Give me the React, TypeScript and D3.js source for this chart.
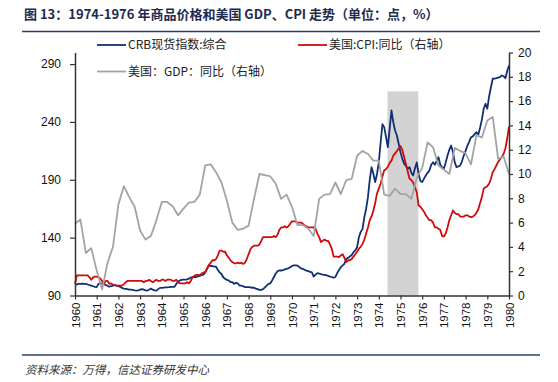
import React, { useEffect, useRef } from 'react';
import * as d3 from 'd3';

// ---- Data ----
const yearTicks = [1960, 1961, 1962, 1963, 1964, 1965, 1966, 1967, 1968, 1969, 1970, 1971, 1972, 1973, 1974, 1975, 1976, 1977, 1978, 1979, 1980];
const leftTicks = [90, 140, 190, 240, 290];
const rightTicks = [0, 2, 4, 6, 8, 10, 12, 14, 16, 18, 20];

// CRB现货指数:综合, monthly 1960-01 .. 1980-01 (left axis)
const crbIndex = [
  99.2, 99.6, 100, 100, 100.2, 100, 100, 99.5, 99, 98.6, 98, 97.5,
  97.2, 100, 100.6, 100.2, 100, 99, 98.5, 97.6, 98, 98.6, 99, 98.6,
  98, 97.5, 96.5, 96, 95.8, 95.5, 95, 95, 94.8, 94.5, 94.3, 94.5,
  95, 95.5, 95, 94.5, 94.3, 95, 96, 95, 94.5, 94.3, 95.5, 96.6,
  96.6, 96.8, 97, 97, 97.2, 97.5, 97.5, 97.5, 100, 102, 103, 103.5,
  103.7, 103.7, 104, 104.5, 105.5, 105.8, 106, 106, 106.5, 107, 107.5, 108.1,
  110, 113, 115.9, 115.5, 115.5, 115, 115, 112, 110, 108.6, 105.8, 104.4,
  103.5, 103, 101.5, 101.5, 100, 101, 100.5, 98.6, 98.6, 98, 97.2, 97.2,
  97.2, 97, 96.7, 96.7, 96, 95.5, 94.9, 94.9, 95.5, 97, 98.5, 100,
  100.5, 103, 106, 109, 111, 111.6, 111.6, 112, 112.5, 113, 113.5, 114.5,
  115.5, 116, 116, 115.9, 114.5, 113.5, 113, 112.2, 111.5, 111, 110.5, 110,
  106.4, 108, 109.3, 109, 108.5, 108.1, 107.8, 107.5, 107, 106.4, 106, 105.3,
  106, 109.3, 112, 114.5, 116, 117.4, 121.7, 122.5, 123.7, 125, 127.4, 129,
  131.7, 140.4, 145, 147.6, 157.7, 165, 175, 190, 200.9, 195.2, 188, 195,
  205, 222, 238, 235.5, 227, 218.2, 234, 249.9, 239.8, 232.6, 228.3, 221.1,
  213.9, 208.1, 204, 202, 199.5, 200.9, 196, 193.7, 200, 205, 195, 189,
  188, 191, 193.7, 196, 198, 203, 205.2, 203, 206, 209.5, 203, 201,
  199.5, 205, 211, 216, 219.6, 214, 205, 201, 201.5, 202.4, 206, 211,
  215, 219.6, 223, 226.8, 227.5, 229.5, 231.1, 228.9, 235, 242, 251.4, 255.7,
  251.4, 262, 270, 277.3, 277.5, 277.8, 278.3, 278.7, 280.1, 279.5, 277.8, 284,
  288.8,
];

// 美国:CPI:同比, monthly 1960-01 .. 1980-01 (right axis)
const cpiYoY = [
  0.96, 1.65, 1.65, 1.65, 1.65, 1.65, 1.65, 1.65, 1.5, 1.3, 1.5, 1.55,
  1.55, 1.5, 1.4, 1.2, 0.96, 1.2, 1.2, 0.96, 1.0, 0.88, 0.85, 0.82,
  0.82, 0.82, 0.82, 0.9, 1.1, 1.2, 1.2, 1.2, 1.2, 1.2, 1.2, 1.2,
  1.2, 1.2, 1.1, 1.2, 1.2, 1.3, 1.2, 1.1, 1.2, 1.3, 1.2, 1.2,
  1.3, 1.3, 1.2, 1.3, 1.3, 1.3, 1.2, 1.2, 1.3, 1.1, 1.0, 1.0,
  1.0, 1.0, 1.1, 1.0, 1.2, 1.5, 1.6, 1.7, 1.7, 1.65, 1.8, 1.9,
  1.9, 2.2, 2.5, 2.7, 2.9, 2.9, 3.0, 3.3, 3.7, 3.7, 3.6, 3.6,
  3.3, 3.1, 2.9, 2.75, 2.65, 2.65, 2.7, 2.65, 2.7, 2.6, 2.7, 3.0,
  3.4, 3.8, 4.0, 4.1, 4.1, 4.1, 4.2, 4.5, 4.8, 4.8, 4.8, 4.8,
  4.8, 4.8, 4.9, 4.8, 5.0, 5.4, 5.6, 5.6, 5.7, 5.6, 5.7, 5.9,
  6.1, 6.1, 6.1, 6.0, 6.0, 6.0, 5.9, 5.75, 5.7, 5.6, 5.6, 5.6,
  5.6, 5.5, 5.1, 4.8, 4.4, 4.5, 4.6, 4.5, 4.5, 4.2, 3.85, 3.2,
  3.2, 3.2, 3.15, 3.3, 3.4, 3.1, 2.75, 2.9, 2.9, 3.0, 3.2, 3.4,
  3.6, 3.85, 4.0, 4.25, 4.6, 5.1, 5.6, 6.2, 6.5, 7.0, 7.6, 8.4,
  8.8, 9.2, 9.8, 10.3, 10.4, 10.6, 10.9, 11.1, 11.5, 11.7, 11.9, 12.1,
  12.3, 12.0, 11.4, 10.8, 10.2, 9.6, 9.5, 9.3, 8.9, 8.5, 7.4, 7.3,
  7.1, 6.9, 6.6, 6.4, 6.2, 6.2, 6.0, 5.6, 5.6, 5.5, 5.4, 4.9,
  4.85, 5.1, 5.6, 6.2, 6.6, 7.0, 6.8, 6.7, 6.7, 6.5, 6.5, 6.5,
  6.6, 6.6, 6.5, 6.45, 6.5, 6.6, 6.8, 7.1, 7.6, 8.1, 8.8, 8.9,
  9.0, 9.2, 9.6, 10.15, 10.4, 10.7, 11.0, 11.2, 11.4, 11.65, 12.1, 12.9,
  13.9,
];

// 美国:GDP:同比, quarterly 1960Q1 .. 1980Q1 (right axis)
const gdpYoY = [
  5.9, 6.25, 3.5, 3.9,
  2.05, 0.5, 2.7, 4.0,
  7.5, 9.0, 8.1, 7.3,
  5.35, 4.6, 4.9, 6.2,
  7.7, 7.7, 7.35, 6.6,
  7.15, 7.65, 7.7, 8.3,
  10.7, 10.8, 10.15, 9.3,
  7.8, 6.0, 5.4, 5.5,
  5.75, 7.95, 10.0, 9.9,
  9.8, 9.2, 7.95, 8.3,
  7.3, 5.8, 5.8, 5.5,
  4.9, 7.95, 8.3, 8.35,
  9.3, 8.35, 9.5, 9.6,
  11.5, 11.9, 11.65, 11.1,
  11.1, 8.3, 8.2, 8.8,
  8.35, 8.35, 7.95, 9.7,
  10.5, 12.6, 12.2, 10.7,
  10.35, 10.0, 12.15, 11.9,
  11.7, 10.8, 13.2, 13.0,
  14.4, 14.7, 11.25, 11.45,
  10.0,
];

// Shaded period (1974-1976 episode), in years, top in right-axis units
const shadeStart = 1974.4;
const shadeEnd = 1975.82;
const shadeTop = 16.8;

const seriesNames = ['CRB现货指数:综合', '美国:CPI:同比（右轴）', '美国：GDP：同比（右轴）'];
const titleText = '图 13：1974-1976 年商品价格和美国 GDP、CPI 走势（单位：点，%）';
const sourceText = '资料来源：万得，信达证券研发中心';

const BLUE = '#112F75';
const RED = '#D10A0A';
const GRAY = '#A3A3A3';
const CJK = '"Noto Sans CJK SC", "Noto Sans", sans-serif';
const LAT = '"Liberation Sans", Arial, sans-serif';

export default function App() {
  const ref = useRef<SVGSVGElement>(null);

  useEffect(() => {
    document.body.style.margin = '0';
    const svg = d3.select(ref.current);
    svg.selectAll('*').remove();

    const x = d3.scaleLinear().domain([1960, 1980]).range([75, 509]);
    const yL = d3.scaleLinear().domain([90, 300]).range([295.5, 52.5]);
    const yR = d3.scaleLinear().domain([0, 20]).range([295.5, 52.5]);

    svg.append('rect').attr('width', 558).attr('height', 382).attr('fill', '#fff');

    // Title
    svg.append('text').attr('x', 24).attr('y', 19)
      .attr('font-family', CJK).attr('font-weight', 700).attr('font-size', 13)
      .attr('fill', '#1E2A50').text(titleText);
    svg.append('line').attr('x1', 22).attr('x2', 540).attr('y1', 31.5).attr('y2', 31.5)
      .attr('stroke', '#2B3F6E').attr('stroke-width', 1.6);

    // Shade
    svg.append('rect')
      .attr('x', x(shadeStart)).attr('width', x(shadeEnd) - x(shadeStart))
      .attr('y', yR(shadeTop)).attr('height', yR(0) - yR(shadeTop))
      .attr('fill', '#D3D3D3');

    // Lines
    const monthX = (i: number) => x(1960 + i / 12);
    const quarterX = (i: number) => x(1960 + i / 4);

    const crbLine = d3.line<number>().x((_, i) => monthX(i)).y(d => yL(d));
    const cpiLine = d3.line<number>().x((_, i) => monthX(i)).y(d => yR(d));
    const gdpLine = d3.line<number>().x((_, i) => quarterX(i)).y(d => yR(d));

    svg.append('path').attr('d', crbLine(crbIndex)!).attr('fill', 'none')
      .attr('stroke', BLUE).attr('stroke-width', 1.8).attr('stroke-linejoin', 'round');
    svg.append('path').attr('d', cpiLine(cpiYoY)!).attr('fill', 'none')
      .attr('stroke', RED).attr('stroke-width', 1.8).attr('stroke-linejoin', 'round');
    svg.append('path').attr('d', gdpLine(gdpYoY)!).attr('fill', 'none')
      .attr('stroke', GRAY).attr('stroke-width', 1.8).attr('stroke-linejoin', 'round');

    // Axes
    const axisColor = '#333';
    const gL = svg.append('g').attr('transform', 'translate(75,0)')
      .call(d3.axisLeft(yL).tickValues(leftTicks).tickSize(5).tickSizeOuter(0).tickPadding(9).tickFormat(d3.format('d')));
    const gR = svg.append('g').attr('transform', 'translate(509,0)')
      .call(d3.axisRight(yR).tickValues(rightTicks).tickSize(4).tickSizeOuter(0).tickPadding(5).tickFormat(d3.format('d')));
    const gB = svg.append('g').attr('transform', 'translate(0,295.5)')
      .call(d3.axisBottom(x).tickValues(yearTicks).tickSize(4).tickSizeOuter(0).tickFormat(d3.format('d')));

    [gL, gR, gB].forEach(g => {
      g.select('.domain').attr('stroke', axisColor).attr('stroke-width', 1.5);
      g.selectAll('.tick line').attr('stroke', axisColor).attr('stroke-width', 1.2);
      g.selectAll('.tick text').attr('fill', '#111').attr('font-family', LAT).attr('font-size', 12);
    });
    gB.selectAll('.tick text')
      .attr('transform', 'rotate(-90)')
      .attr('text-anchor', 'end')
      .attr('x', -7).attr('y', 0).attr('dy', '0.35em')
      .attr('font-size', 11.5);

    // Legend
    const legend = [
      { name: seriesNames[0], color: BLUE, x: 97, y: 45 },
      { name: seriesNames[1], color: RED, x: 298, y: 45 },
      { name: seriesNames[2], color: GRAY, x: 97, y: 71.5 },
    ];
    legend.forEach(l => {
      svg.append('line').attr('x1', l.x).attr('x2', l.x + 29).attr('y1', l.y).attr('y2', l.y)
        .attr('stroke', l.color).attr('stroke-width', 1.8);
      svg.append('text').attr('x', l.x + 31).attr('y', l.y + 4.3)
        .attr('font-family', CJK).attr('font-size', 12).attr('fill', '#222').text(l.name);
    });

    // Footer
    svg.append('line').attr('x1', 22).attr('x2', 540).attr('y1', 355).attr('y2', 355)
      .attr('stroke', '#2B3F6E').attr('stroke-width', 1.6);
    svg.append('text').attr('x', 25).attr('y', 374)
      .attr('font-family', CJK).attr('font-style', 'italic').attr('font-size', 11.5)
      .attr('fill', '#333').text(sourceText);
  }, []);

  return <svg ref={ref} width={558} height={382} style={{ position: 'absolute', left: 0, top: 0, display: 'block' }} />;
}
